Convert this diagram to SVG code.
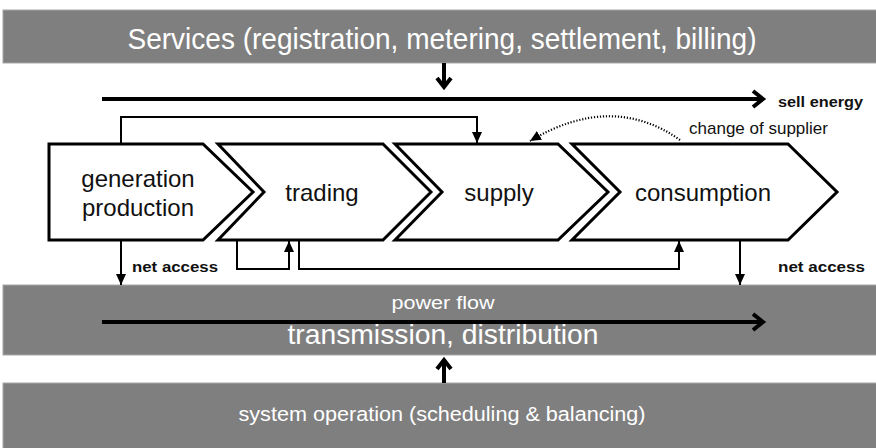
<svg xmlns="http://www.w3.org/2000/svg" width="876" height="448" viewBox="0 0 876 448">
<style>
.band{fill:#7f7f7f;stroke:#a8a8a8;stroke-width:1}
.bt{fill:#ffffff;font-family:"Liberation Sans",Arial,sans-serif;text-anchor:middle}
.chev{fill:#ffffff;stroke:#000;stroke-width:3;stroke-linejoin:miter}
.ct{fill:#111;font-family:"Liberation Sans",Arial,sans-serif;font-size:24px;text-anchor:middle}
.thin{fill:none;stroke:#000;stroke-width:2}
.thick{fill:none;stroke:#000;stroke-width:4}
.lbl{fill:#111;font-family:"Liberation Sans",Arial,sans-serif}
</style>
<defs>
<marker id="tri" markerUnits="userSpaceOnUse" markerWidth="12" markerHeight="10" refX="11" refY="5" orient="auto">
<path d="M0,0 L11,5 L0,10 Z" fill="#000"/>
</marker>
</defs>
<g id="services">
<rect class="band" x="3" y="10" width="880" height="53"/>
<text class="bt" x="442" y="49" font-size="29" textLength="629" lengthAdjust="spacingAndGlyphs">Services (registration, metering, settlement, billing)</text>
</g>
<g id="transmission">
<rect class="band" x="3" y="285" width="880" height="70"/>
<text class="bt" x="443" y="309" font-size="18" textLength="103" lengthAdjust="spacingAndGlyphs">power flow</text>
<text class="bt" x="443" y="344" font-size="28" textLength="311" lengthAdjust="spacingAndGlyphs">transmission, distribution</text>
</g>
<g id="system-operation">
<rect class="band" x="3" y="383" width="880" height="70"/>
<text class="bt" x="442" y="421" font-size="20" textLength="407" lengthAdjust="spacingAndGlyphs">system operation (scheduling &amp; balancing)</text>
</g>
<g id="generation">
<polygon class="chev" points="49,144 203,144 253,192 203,240 49,240"/>
<text class="ct" x="138" y="187">generation</text>
<text class="ct" x="138" y="216">production</text>
</g>
<g id="trading">
<polygon class="chev" points="218,144 383,144 431,192 383,240 218,240 264,192"/>
<text class="ct" x="322" y="201">trading</text>
</g>
<g id="supply">
<polygon class="chev" points="395,144 558,144 608,192 558,240 395,240 442,192"/>
<text class="ct" x="499" y="201">supply</text>
</g>
<g id="consumption">
<polygon class="chev" points="572,144 788,144 837,192 788,240 572,240 620,192"/>
<text class="ct" x="703" y="201">consumption</text>
</g>
<g id="connectors">
<line class="thick" x1="444" y1="63" x2="444" y2="87"/>
<polyline class="thick" points="437,78 444,87 451,78"/>
<line class="thick" x1="102" y1="99" x2="763" y2="99"/>
<polyline class="thick" points="753,91 763,99 753,107"/>
<line class="thick" x1="102" y1="322" x2="763" y2="322"/>
<polyline class="thick" points="753,314 763,322 753,330"/>
<line class="thick" x1="444" y1="383" x2="444" y2="360"/>
<polyline class="thick" points="437,369 444,360 451,369"/>
<polyline class="thin" points="121,144 121,117 477,117 477,143" marker-end="url(#tri)"/>
<path d="M680,140 Q612,92 530,141" fill="none" stroke="#000" stroke-width="2.2" stroke-dasharray="1.2 1.8" marker-end="url(#tri)"/>
<line class="thin" x1="121" y1="240" x2="121" y2="285" marker-end="url(#tri)"/>
<line class="thin" x1="740" y1="240" x2="740" y2="285" marker-end="url(#tri)"/>
<polyline class="thin" points="237,240 237,269 289,269 289,241" marker-end="url(#tri)"/>
<polyline class="thin" points="299,240 299,269 679,269 679,241" marker-end="url(#tri)"/>
</g>
<text class="lbl" x="778" y="107" font-size="14" font-weight="bold" textLength="85" lengthAdjust="spacingAndGlyphs">sell energy</text>
<text class="lbl" x="689" y="134" font-size="17" textLength="139" lengthAdjust="spacingAndGlyphs">change of supplier</text>
<text class="lbl" x="132" y="272" font-size="15" font-weight="bold" textLength="86" lengthAdjust="spacingAndGlyphs">net access</text>
<text class="lbl" x="778" y="272" font-size="15" font-weight="bold" textLength="87" lengthAdjust="spacingAndGlyphs">net access</text>
</svg>
